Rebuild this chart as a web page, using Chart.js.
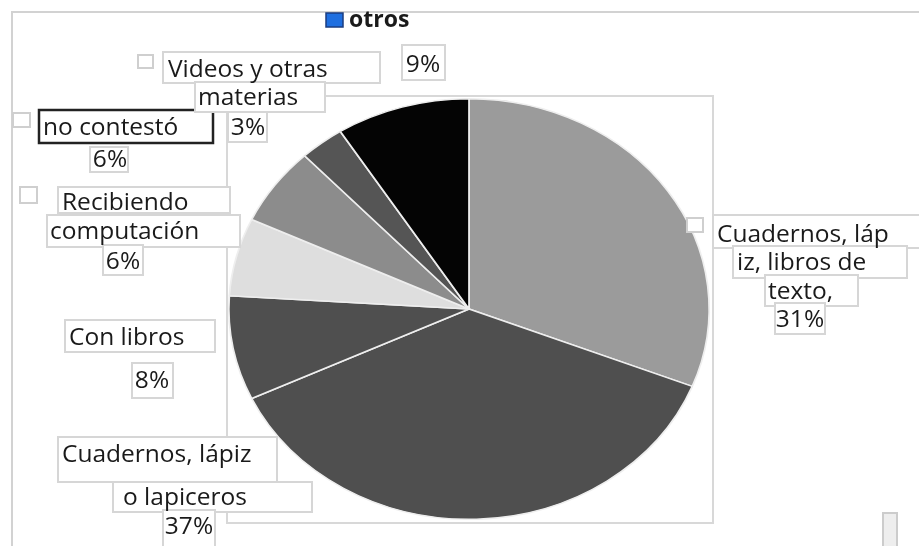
<!DOCTYPE html>
<html>
<head>
<meta charset="utf-8">
<script src="https://cdn.jsdelivr.net/npm/chart.js@4.4.0/dist/chart.umd.min.js"></script>
<style>
  html, body { margin: 0; padding: 0; background: #fff; }
  #wrap { width: 919px; height: 546px; }
</style>
</head>
<body>
<div id="wrap"><canvas id="pie-chart" width="919" height="546"></canvas></div>
<script>
var categories = ['Cuadernos, lápiz, libros de texto', 'Cuadernos, lápiz o lapiceros', 'Con libros',
    'Recibiendo computación', 'no contestó', 'Videos y otras materias', 'otros'];
var values = [31, 37, 8, 6, 6, 3, 9];
var legendLabel = 'otros';

// how the category names wrap in the picture
var labelLines = [
    ['Cuadernos, láp', 'iz, libros de', 'texto,'],
    ['Cuadernos, lápiz', 'o lapiceros'],
    ['Con libros'],
    ['Recibiendo', 'computación'],
    ['no contestó'],
    ['Videos y otras', 'materias'],
    []
];

var sliceColors = ['#9b9b9b', '#4f4f4f', '#4f4f4f', '#dedede', '#8c8c8c', '#555555', '#040404'];

// label boxes: [x, y, w, h, textX, textY, align] for each line, then the percent box
var labelBoxes = [
    { marker: [687, 218, 16, 14], lines: [[713, 215, 210, 33, 717, 235, 'left'], [733, 246, 174, 32, 737, 263, 'left'], [765, 275, 93, 31, 768, 292, 'left']], pct: [775, 303, 50, 31, 800, 320] },
    { lines: [[58, 437, 219, 45, 62, 455, 'left'], [113, 482, 199, 30, 123, 498, 'left']], pct: [163, 510, 52, 38, 189, 527] },
    { lines: [[65, 320, 150, 32, 69, 338, 'left']], pct: [132, 363, 41, 35, 152, 381] },
    { marker: [20, 187, 17, 16], lines: [[58, 187, 172, 26, 62, 203, 'left'], [47, 215, 193, 32, 50, 232, 'left']], pct: [103, 245, 40, 30, 123, 262] },
    { marker: [13, 113, 17, 14], dark: true, lines: [[39, 110, 174, 33, 43, 128, 'left']], pct: [90, 147, 38, 25, 110, 160] },
    { marker: [138, 55, 15, 13], lines: [[163, 52, 217, 31, 168, 70, 'left'], [195, 82, 130, 30, 198, 98, 'left']], pct: [228, 112, 39, 30, 248, 128] },
    { lines: [], pct: [402, 45, 43, 35, 423, 65] }
];

var FONT = '"Open Sans", "Noto Sans", sans-serif';

var frame = {
    id: 'frame',
    beforeDraw: function (chart) {
        var ctx = chart.ctx;
        ctx.save();
        ctx.fillStyle = '#fff';
        ctx.fillRect(0, 0, chart.width, chart.height);
        ctx.strokeStyle = '#d2d2d2';
        ctx.lineWidth = 2;
        ctx.beginPath();
        ctx.moveTo(919, 12); ctx.lineTo(12, 12); ctx.lineTo(12, 546);
        ctx.stroke();
        ctx.strokeStyle = '#d8d8d8';
        ctx.strokeRect(227, 96, 486, 427);
        ctx.fillStyle = '#eeeeee';
        ctx.strokeStyle = '#cccccc';
        ctx.fillRect(883, 513, 14, 35);
        ctx.strokeRect(883, 513, 14, 35);
        ctx.restore();
    },
    // the pie in the picture is an ellipse, so stretch it sideways
    beforeDatasetsDraw: function (chart) {
        var arc = chart.getDatasetMeta(0).data[0];
        var ctx = chart.ctx;
        ctx.save();
        ctx.translate(arc.x, arc.y);
        ctx.scale(241 / 211, 1);
        ctx.translate(-arc.x, -arc.y);
    },
    afterDatasetsDraw: function (chart) {
        chart.ctx.restore();
    },
    afterDraw: function (chart) {
        var ctx = chart.ctx;
        ctx.save();
        // legend
        ctx.fillStyle = '#1f6fe0';
        ctx.strokeStyle = '#1b3d80';
        ctx.lineWidth = 1.5;
        ctx.fillRect(326, 13, 17, 14);
        ctx.strokeRect(326, 13, 17, 14);
        ctx.fillStyle = '#1a1a1a';
        ctx.font = 'bold 23px ' + FONT;
        ctx.textBaseline = 'middle';
        ctx.textAlign = 'left';
        ctx.fillText(legendLabel, 349, 20);

        // boxes first
        labelBoxes.forEach(function (lb) {
            if (lb.marker) {
                ctx.fillStyle = '#fff';
                ctx.strokeStyle = '#cfcfcf';
                ctx.lineWidth = 2;
                ctx.fillRect(lb.marker[0], lb.marker[1], lb.marker[2], lb.marker[3]);
                ctx.strokeRect(lb.marker[0], lb.marker[1], lb.marker[2], lb.marker[3]);
            }
            lb.lines.concat([lb.pct]).forEach(function (b) {
                ctx.fillStyle = '#fff';
                ctx.fillRect(b[0], b[1], b[2], b[3]);
                ctx.strokeStyle = '#d6d6d6';
                ctx.lineWidth = 2;
                ctx.strokeRect(b[0], b[1], b[2], b[3]);
            });
            if (lb.dark) {
                var d = lb.lines[0];
                ctx.strokeStyle = '#222';
                ctx.lineWidth = 2.5;
                ctx.strokeRect(d[0], d[1], d[2], d[3]);
            }
        });

        // then the text
        ctx.font = '24.5px ' + FONT;
        ctx.fillStyle = '#1a1a1a';
        labelBoxes.forEach(function (lb, i) {
            lb.lines.forEach(function (b, j) {
                ctx.textAlign = b[6];
                ctx.fillText(labelLines[i][j], b[4], b[5]);
            });
            ctx.textAlign = 'center';
            ctx.fillText(values[i] + '%', lb.pct[4], lb.pct[5]);
        });
        ctx.restore();
    }
};

var ctx = document.getElementById('pie-chart').getContext('2d');
var chart = new Chart(ctx, {
    type: 'pie',
    data: {
        labels: categories,
        datasets: [{
            data: values,
            backgroundColor: sliceColors,
            borderColor: '#eeeeee',
            borderWidth: 1.5
        }]
    },
    options: {
        responsive: false,
        animation: false,
        layout: {
            padding: { top: 98, bottom: 26, left: 258, right: 239 }
        },
        plugins: {
            legend: { display: false },
            tooltip: { enabled: false }
        }
    },
    plugins: [frame]
});
</script>
</body>
</html>
